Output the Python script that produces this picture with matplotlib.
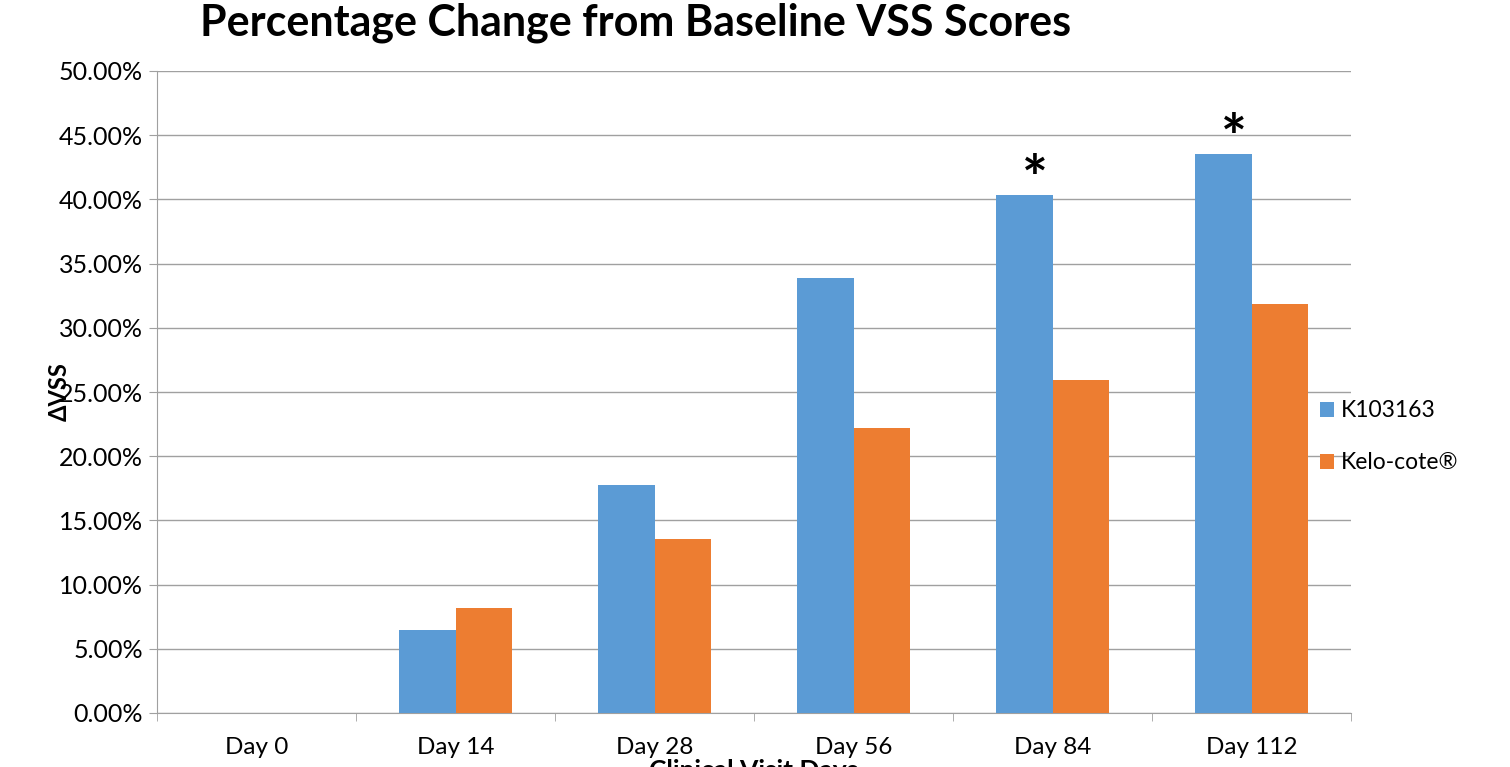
import numpy as np
import matplotlib.pyplot as plt
from matplotlib.ticker import FuncFormatter

days = ['Day 0', 'Day 14', 'Day 28', 'Day 56', 'Day 84', 'Day 112']
k103163 = [0.0, 6.5, 17.75, 33.9, 40.35, 43.55]
kelocote = [0.0, 8.2, 13.55, 22.2, 25.95, 31.85]
stars = [4, 5]

plt.rcParams['font.family'] = ['Lato', 'DejaVu Sans']

fig = plt.figure(figsize=(15.1, 7.67), dpi=100)
ax = fig.add_axes([157/1510, 1-713/767, 1194/1510, 642/767])

x = np.arange(len(days))
w = 0.285
ax.bar(x - w/2, k103163, w, color='#5b9bd5', label='K103163', zorder=3)
ax.bar(x + w/2, kelocote, w, color='#ed7d31', label='Kelo-cote®', zorder=3)

# significance markers
for i in stars:
    ax.annotate('*', xy=(x[i] - w/2, k103163[i]), xytext=(8, -11), textcoords='offset points',
                ha='center', va='bottom', fontsize=44, fontweight='bold')

ax.set_xlim(-0.5, len(days) - 0.5)
ax.set_ylim(0, 50)
ax.set_yticks(np.arange(0, 51, 5))
ax.yaxis.set_major_formatter(FuncFormatter(lambda v, p: f'{v:.2f}%'))
ax.set_xticks(x)
ax.set_xticklabels(days)
ax.set_xticks(np.arange(-0.5, len(days), 1), minor=True)
ax.tick_params(axis='x', which='major', length=0, pad=17, labelsize=17.5)
ax.tick_params(axis='x', which='minor', length=6, color='#a0a0a0', direction='out')
ax.tick_params(axis='y', length=6, color='#a0a0a0', labelsize=18, pad=4)
ax.grid(axis='y', color='#a0a0a0', linewidth=1, zorder=0)
for s in ['top', 'right']:
    ax.spines[s].set_visible(False)
for s in ['left', 'bottom']:
    ax.spines[s].set_color('#a0a0a0')

ax.set_ylabel('ΔVSS', fontsize=17, fontweight='bold')
ax.yaxis.set_label_coords(-86/1194, 0.5)
ax.set_xlabel('Clinical Visit Days', fontsize=19, fontweight='bold')
ax.xaxis.set_label_coords(0.5, -46/642)

fig.text(636/1510, 1-23/767, 'Percentage Change from Baseline VSS Scores', ha='center', va='center',
         fontsize=31, fontweight='bold')

ax.legend(loc='center left', bbox_to_anchor=(0.957, 0.43), frameon=False, fontsize=16.5,
          handlelength=0.6, handleheight=0.6, handletextpad=0.3, labelspacing=1.35)

fig.savefig('out.png', dpi=100)
